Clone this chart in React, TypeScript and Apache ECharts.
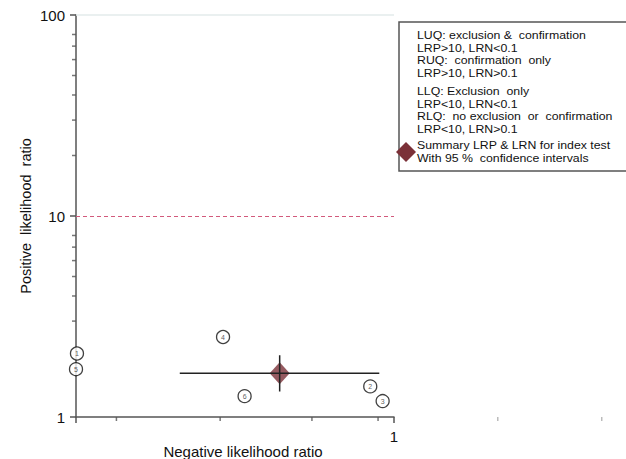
import React, { useEffect, useRef } from "react";
import * as echarts from "echarts";

const studyIds = ["1", "2", "3", "4", "5", "6"];
const studyLRN = [0.1007, 0.842, 0.921, 0.29, 0.1, 0.339];
const studyLRP = [2.07, 1.42, 1.2, 2.5, 1.73, 1.27];

const summaryLRN = 0.437;
const summaryLRP = 1.65;
const summaryLRNci = [0.212, 0.899];
const summaryLRPci = [1.34, 2.03];

const xMinorTicks = [0.134, 0.284, 0.552, 0.891];
const xOuterTicks = [2.12, 4.5];
const yMinorTicks = [20, 30, 40, 50, 60, 70, 80, 3, 4, 5, 6, 7, 8];

const legendGroups = [
  ["LUQ: exclusion &  confirmation", "LRP>10, LRN<0.1", "RUQ:  confirmation  only", "LRP>10, LRN>0.1"],
  ["LLQ: Exclusion  only", "LRP<10, LRN<0.1", "RLQ:  no exclusion  or  confirmation", "LRP<10, LRN>0.1"],
  ["Summary LRP & LRN for index test", "With 95 %  confidence intervals"],
];

const FONT = "Liberation Sans, Arial, sans-serif";
const AXIS = "#555555";
const MAROON = "#7b3138";

export default function App() {
  const ref = useRef<HTMLDivElement>(null);
  useEffect(() => {
    if (!ref.current) return;
    const chart = echarts.init(ref.current, null, { renderer: "svg" });
    const groupCenters = [35, 91, 145];
    const LH = 12.5;
    const graphics: any[] = [
      {
        type: "rect",
        shape: { x: 399, y: 22, width: 260, height: 149 },
        style: { fill: "#ffffff", stroke: AXIS, lineWidth: 1.5 },
        z: 10,
      },
      {
        type: "polygon",
        shape: { points: [[406, 142], [416, 152], [406, 162], [396, 152]] },
        style: { fill: MAROON },
        z: 12,
      },
    ];
    legendGroups.forEach((g, i) => {
      g.forEach((line, j) => {
        graphics.push({
          type: "text",
          x: 417,
          y: groupCenters[i] + j * LH,
          scaleX: 1.12,
          z: 11,
          style: {
            text: line,
            fill: "#111",
            font: `11px ${FONT}`,
            textVerticalAlign: "middle",
          },
        });
      });
    });

    chart.setOption({
      animation: false,
      backgroundColor: "#ffffff",
      grid: { left: 76, top: 15, width: 318, height: 402, outerBoundsMode: "none", containLabel: false },
      xAxis: {
        type: "log",
        logBase: 10,
        min: 0.1,
        max: 1,
        name: "Negative likelihood ratio",
        nameLocation: "middle",
        nameGap: 27,
        nameMoveOverlap: false,
        nameTextStyle: { fontFamily: FONT, fontSize: 15, color: "#111", padding: [0, 0, 0, 16] },
        axisLine: { show: true, lineStyle: { color: AXIS, width: 1.5 } },
        axisTick: { show: true, length: 6, lineStyle: { color: AXIS, width: 1.5 } },
        axisLabel: {
          fontFamily: FONT,
          fontSize: 15,
          color: "#111",
          margin: 12,
          formatter: (v: number) => (v > 0.99 ? "1" : ""),
        },
        splitLine: { show: false },
      },
      yAxis: {
        type: "log",
        logBase: 10,
        min: 1,
        max: 100,
        name: "Positive  likelihood  ratio",
        nameLocation: "middle",
        nameGap: 43,
        nameMoveOverlap: false,
        nameRotate: 90,
        nameTextStyle: { fontFamily: FONT, fontSize: 14.5, color: "#111" },
        axisLine: { show: true, lineStyle: { color: AXIS, width: 1.5 } },
        axisTick: { show: true, length: 6, lineStyle: { color: AXIS, width: 1.5 } },
        axisLabel: { fontFamily: FONT, fontSize: 15, color: "#111", margin: 11 },
        splitLine: { show: false },
      },
      graphic: graphics,
      series: [
        {
          type: "line",
          data: [],
          markLine: {
            silent: true,
            symbol: "none",
            label: { show: false },
            lineStyle: { color: "#e3ebeb", width: 1.5, type: "solid" },
            data: [{ yAxis: 100 }],
          },
        },
        {
          type: "line",
          data: [],
          markLine: {
            silent: true,
            symbol: "none",
            label: { show: false },
            lineStyle: { color: "#d25a7c", width: 1.2, type: [4, 3] },
            data: [{ yAxis: 10 }],
          },
        },
        {
          type: "scatter",
          clip: false,
          symbol: "rect",
          symbolSize: [1.5, 4],
          symbolOffset: [0, 2],
          itemStyle: { color: AXIS },
          data: xMinorTicks.map((v) => [v, 1]),
          silent: true,
        },
        {
          type: "scatter",
          clip: false,
          symbol: "rect",
          symbolSize: [1.5, 4],
          symbolOffset: [0, 2],
          itemStyle: { color: "#aaaaaa" },
          data: xOuterTicks.map((v) => [v, 1]),
          silent: true,
        },
        {
          type: "scatter",
          clip: false,
          symbol: "rect",
          symbolSize: [4, 1.5],
          symbolOffset: [-2, 0],
          itemStyle: { color: AXIS },
          data: yMinorTicks.map((v) => [0.1, v]),
          silent: true,
        },
        {
          type: "scatter",
          symbol: "diamond",
          symbolSize: [20, 22],
          itemStyle: { color: MAROON },
          data: [[summaryLRN, summaryLRP]],
          z: 3,
        },
        {
          type: "line",
          symbol: "none",
          lineStyle: { color: "#222", width: 1.5 },
          z: 4,
          data: [
            [summaryLRNci[0], summaryLRP],
            [summaryLRNci[1], summaryLRP],
          ],
        },
        {
          type: "line",
          symbol: "none",
          lineStyle: { color: "#222", width: 1.5 },
          z: 4,
          data: [
            [summaryLRN, summaryLRPci[0]],
            [summaryLRN, summaryLRPci[1]],
          ],
        },
        {
          type: "scatter",
          clip: false,
          symbol: "circle",
          symbolSize: 13,
          z: 5,
          itemStyle: { color: "#ffffff", borderColor: "#111", borderWidth: 1.3 },
          label: {
            show: true,
            position: "inside",
            fontFamily: FONT,
            fontSize: 7,
            color: "#333",
            formatter: (p: any) => p.data[2],
          },
          data: studyIds.map((id, i) => [studyLRN[i], studyLRP[i], id]),
        },
      ],
    });
    return () => chart.dispose();
  }, []);
  return <div ref={ref} style={{ position: "fixed", left: 0, top: 0, width: 626, height: 459 }} />;
}
